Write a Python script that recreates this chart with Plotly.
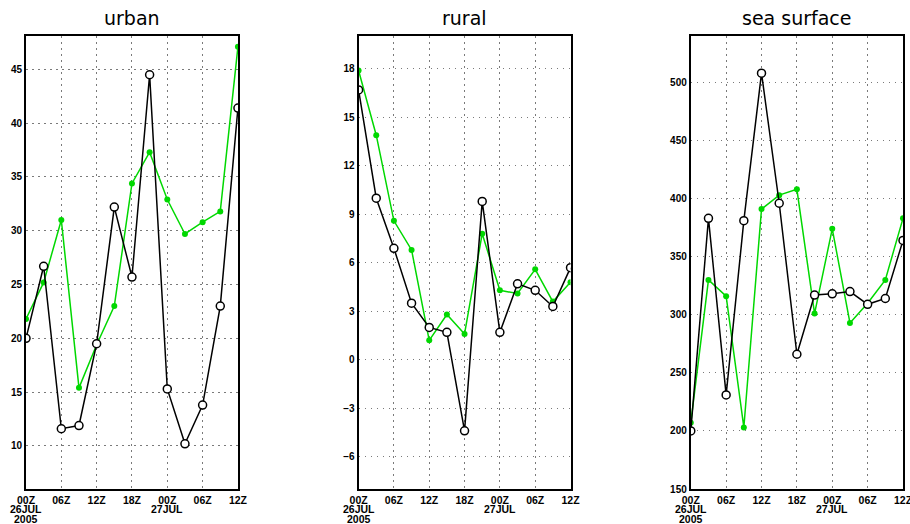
import plotly.graph_objects as go
from plotly.subplots import make_subplots

times = ["2005-07-26 00:00", "2005-07-26 03:00", "2005-07-26 06:00", "2005-07-26 09:00",
         "2005-07-26 12:00", "2005-07-26 15:00", "2005-07-26 18:00", "2005-07-26 21:00",
         "2005-07-27 00:00", "2005-07-27 03:00", "2005-07-27 06:00", "2005-07-27 09:00",
         "2005-07-27 12:00"]

urban_black = [20.0, 26.7, 11.6, 11.9, 19.5, 32.2, 25.7, 44.5, 15.3, 10.2, 13.8, 23.0, 41.4]
urban_green = [21.8, 25.2, 31.0, 15.4, 19.4, 23.0, 34.4, 37.3, 32.9, 29.7, 30.8, 31.8, 47.1]

rural_black = [16.7, 10.0, 6.9, 3.5, 2.0, 1.7, -4.4, 9.8, 1.7, 4.7, 4.3, 3.3, 5.7]
rural_green = [17.9, 13.9, 8.6, 6.8, 1.2, 2.8, 1.6, 7.8, 4.3, 4.1, 5.6, 3.6, 4.8]

sea_black = [200, 383, 231, 381, 508, 396, 266, 317, 318, 320, 309, 314, 364]
sea_green = [207, 330, 316, 203, 391, 403, 408, 301, 374, 293, 310, 330, 383]

titles = ["urban", "rural", "sea surface"]

xtick_vals = ["2005-07-26 00:00", "2005-07-26 06:00", "2005-07-26 12:00", "2005-07-26 18:00",
              "2005-07-27 00:00", "2005-07-27 06:00", "2005-07-27 12:00"]
xtick_text = ["00Z", "06Z", "12Z", "18Z", "00Z", "06Z", "12Z"]
date_labels = [("2005-07-26 00:00", "26JUL", 508.5), ("2005-07-26 00:00", "2005", 519),
               ("2005-07-27 00:00", "27JUL", 508.5)]

urban_ticks = [10, 15, 20, 25, 30, 35, 40, 45]
rural_ticks = [-6, -3, 0, 3, 6, 9, 12, 15, 18]
sea_ticks = [150, 200, 250, 300, 350, 400, 450, 500]

y_ranges = [[6.0, 48.1], [-8, 20.04], [150, 540]]
y_ticks = [urban_ticks, rural_ticks, sea_ticks]
series = [(urban_black, urban_green), (rural_black, rural_green), (sea_black, sea_green)]

W, H = 910, 524
ML, MR, MT, MB = 26, 6.7, 36, 35.3
PW = W - ML - MR
PH = H - MT - MB
domains_px = [(26, 238), (358.7, 570.7), (691, 903.3)]

fig = make_subplots(rows=1, cols=3)
GREEN = "#00d800"
for i, (blk, grn) in enumerate(series):
    fig.add_trace(go.Scatter(x=times, y=grn, mode="lines+markers",
                             line=dict(color=GREEN, width=1.5),
                             marker=dict(color=GREEN, size=6, symbol="circle"),
                             showlegend=False), row=1, col=i + 1)
    fig.add_trace(go.Scatter(x=times, y=blk, mode="lines+markers",
                             line=dict(color="black", width=1.5),
                             marker=dict(color="white", size=8, symbol="circle",
                                         line=dict(color="black", width=1.5)),
                             showlegend=False), row=1, col=i + 1)

FONT = "Liberation Sans"
GRID = dict(showgrid=True, gridcolor="#7a7a7a", griddash="1.5px,4.5px", gridwidth=1.2)
for i in range(3):
    x0, x1 = domains_px[i]
    xa = "xaxis" if i == 0 else f"xaxis{i+1}"
    ya = "yaxis" if i == 0 else f"yaxis{i+1}"
    xref = "x" if i == 0 else f"x{i+1}"
    fig.layout[xa].update(domain=[(x0 - ML) / PW, (x1 - ML) / PW],
                          range=["2005-07-26 00:00", "2005-07-27 12:00"],
                          tickvals=xtick_vals, ticktext=xtick_text, **GRID,
                          showline=True, linecolor="black", linewidth=2, mirror=True,
                          ticks="", automargin=False, ticklabeloverflow="allow",
                          tickfont=dict(family=FONT, size=10.5, color="black", weight="bold"),
                          zeroline=False)
    fig.layout[ya].update(range=y_ranges[i], tickvals=y_ticks[i],
                          ticktext=[("\u2212" + str(abs(v))) if v < 0 else str(v) for v in y_ticks[i]],
                          **GRID,
                          showline=True, linecolor="black", linewidth=2, mirror=True,
                          ticks="", automargin=False, ticklabeloverflow="allow",
                          tickfont=dict(family=FONT, size=10, color="black", weight="bold"),
                          zeroline=False)
    fig.add_annotation(text=titles[i], x=((x0 + x1) / 2 - ML) / PW, y=(H - MB - 18) / PH,
                       xref="paper", yref="paper", showarrow=False,
                       xanchor="center", yanchor="middle",
                       font=dict(family="DejaVu Sans", size=19, color="black"))
    for dval, dtext, ypx in date_labels:
        fig.add_annotation(text=dtext, x=dval, xref=xref,
                           y=-(ypx - (H - MB)) / PH, yref="paper",
                           showarrow=False, xanchor="center", yanchor="middle",
                           borderpad=0,
                           font=dict(family=FONT, size=10.5, color="black", weight="bold"))

fig.update_layout(width=W, height=H, plot_bgcolor="white", paper_bgcolor="white",
                  margin=dict(l=ML, r=MR, t=MT, b=MB), showlegend=False)

fig.write_html("out.html", config={"displayModeBar": False},
               post_script="document.body.style.margin='0';document.body.style.overflow='hidden';")
